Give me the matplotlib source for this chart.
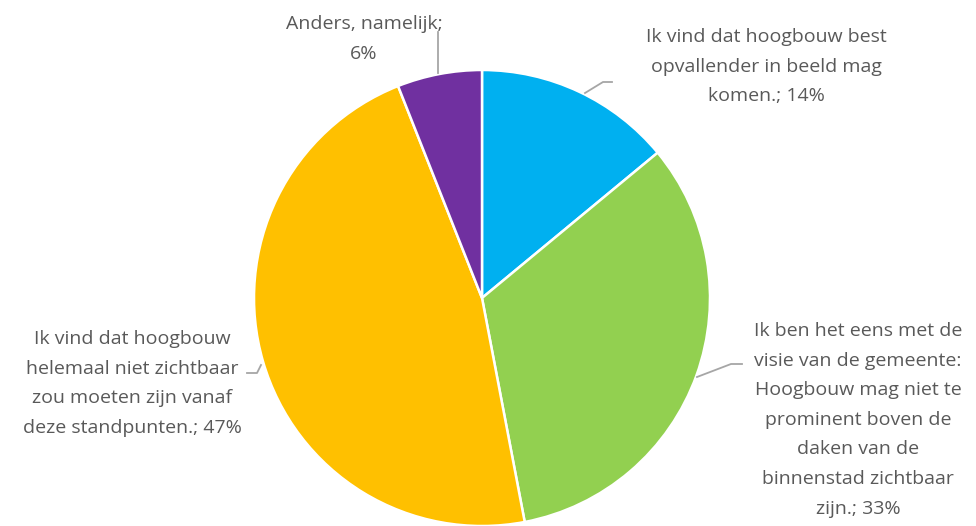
import matplotlib
matplotlib.use("Agg")
import matplotlib.pyplot as plt

# data
labels = [
    "Ik vind dat hoogbouw best\nopvallender in beeld mag\nkomen.; 14%",
    "Ik ben het eens met de\nvisie van de gemeente:\nHoogbouw mag niet te\nprominent boven de\ndaken van de\nbinnenstad zichtbaar\nzijn.; 33%",
    "Ik vind dat hoogbouw\nhelemaal niet zichtbaar\nzou moeten zijn vanaf\ndeze standpunten.; 47%",
    "Anders, namelijk;\n6%",
]
values = [14, 33, 47, 6]
colors = ["#00B0F0", "#92D050", "#FFC000", "#7030A0"]

W, H = 976, 526
fig = plt.figure(figsize=(W / 100, H / 100), dpi=100)
ax = fig.add_axes([0, 0, 1, 1])

def fy(y):
    # pixel row from top -> data y
    return H - y

cx, cy, r = 482, 298, 228
ax.pie(values, colors=colors, startangle=90, counterclock=False,
       center=(cx, fy(cy)), radius=r, frame=True,
       wedgeprops=dict(edgecolor="white", linewidth=1.8))
ax.set_xlim(0, W)
ax.set_ylim(0, H)
ax.set_aspect("equal")
ax.axis("off")

txt = dict(fontsize=14, color="#595959", family="Open Sans",
           ha="center", va="top", linespacing=1.83)

# label positions (centre x, top y)
ax.text(766, fy(28), labels[0], **txt)
ax.text(858, fy(322), labels[1], **txt)
ax.text(132, fy(330), labels[2], **txt)
ax.text(364, fy(15), labels[3], **txt)

# leader lines
lc = dict(color="#A6A6A6", linewidth=1.3)
ax.plot([585, 603, 612], [fy(93), fy(82), fy(82)], **lc)
ax.plot([697, 731, 742], [fy(377), fy(364), fy(364)], **lc)
ax.plot([247, 257, 261], [fy(373), fy(373), fy(365)], **lc)
ax.plot([438, 438], [fy(73), fy(32)], **lc)

fig.savefig("out.png", dpi=100)
